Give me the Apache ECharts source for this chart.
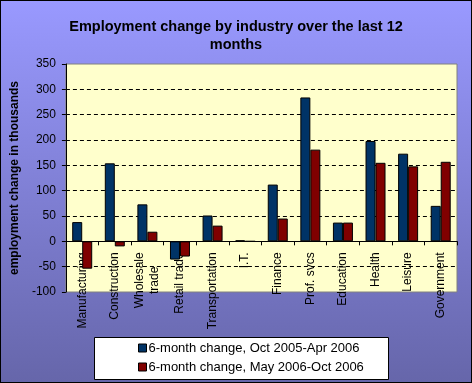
<!DOCTYPE html>
<html>
<head>
<meta charset="utf-8">
<script src="https://cdn.jsdelivr.net/npm/echarts@6/dist/echarts.min.js"></script>
<style>
html,body{margin:0;padding:0;background:#fff;}
#c{width:472px;height:383px;box-sizing:border-box;border:1px solid #000;}
</style>
</head>
<body>
<div id="c"></div>
<script>
const categories = ['Manufacturing','Construction','Wholesale\ntrade','Retail trade','Transportation','I.T.','Finance','Prof. svcs','Education','Health','Leisure','Government'];
const seriesNames = ['6-month change, Oct 2005-Apr 2006','6-month change, May 2006-Oct 2006'];
const firstHalf = [38, 154, 73, -36, 51, 2, 112, 284, 37, 198, 173, 70];
const secondHalf = [-54, -10, 19, -30, 31, 0, 45, 181, 37, 155, 148, 157];
const yTicks = {min: -100, max: 350, interval: 50};

const gridH = 228;
const zeroOffset = -gridH * (0 - yTicks.min) / (yTicks.max - yTicks.min);

const chart = echarts.init(document.getElementById('c'), null, {renderer: 'canvas'});
const font = 'Arial, "Liberation Sans", sans-serif';
chart.setOption({
  backgroundColor: {
    type: 'linear', x: 0, y: 0, x2: 0, y2: 1,
    colorStops: [{offset: 0, color: '#9999FF'}, {offset: 1, color: '#6666AA'}]
  },
  animation: false,
  title: {
    text: 'Employment change by industry over the last 12\nmonths',
    left: 'center', top: 12,
    textStyle: {fontFamily: font, fontSize: 14.5, fontWeight: 'bold', color: '#000', lineHeight: 18}
  },
  graphic: [{
    type: 'rect', z: -1,
    shape: {x: 93.5, y: 336.5, width: 294, height: 42},
    style: {fill: '#fff', stroke: '#000', lineWidth: 1}
  }],
  grid: {
    left: 61, top: 63, width: 395, height: gridH,
    show: true, backgroundColor: '#FFFFCC', borderColor: '#808080', borderWidth: 1
  },
  legend: {
    orient: 'vertical', left: 137, top: 340,
    padding: 0, itemGap: 5,
    itemWidth: 8, itemHeight: 8, icon: 'rect',
    itemStyle: {borderColor: '#000', borderWidth: 1},
    textStyle: {fontFamily: font, fontSize: 13, color: '#000', lineHeight: 14, padding: [0,0,0,-3]},
    data: seriesNames
  },
  xAxis: {
    type: 'category', data: categories,
    offset: zeroOffset,
    axisLine: {onZero: false, lineStyle: {color: '#000', width: 1}},
    axisTick: {show: true, length: 4, lineStyle: {color: '#000'}},
    axisLabel: {
      rotate: 90, margin: 11, interval: 0, color: '#000', fontFamily: font, fontSize: 12,
      formatter: function (v) { return v.split('\n').map(function (s) { return '{c|' + s + '}'; }).join('\n'); },
      rich: {c: {align: 'center', fontFamily: font, fontSize: 12, color: '#000', lineHeight: 15}}
    },
    splitLine: {show: false}
  },
  yAxis: {
    type: 'value', min: yTicks.min, max: yTicks.max, interval: yTicks.interval,
    name: 'employment change in thousands', nameLocation: 'middle', nameGap: 33,
    nameTextStyle: {fontFamily: font, fontSize: 12, fontWeight: 'bold', color: '#000'},
    axisLine: {show: true, lineStyle: {color: '#000', width: 1}},
    axisTick: {show: true, length: 4, lineStyle: {color: '#000'}},
    axisLabel: {color: '#000', fontFamily: font, fontSize: 12, margin: 10},
    splitLine: {show: true, showMinLine: false, showMaxLine: false, lineStyle: {color: '#000', type: [4, 3], width: 1}}
  },
  series: [
    {name: seriesNames[0], type: 'bar', data: firstHalf, barWidth: 10, barGap: '0%',
     itemStyle: {color: '#003366', borderColor: '#000', borderWidth: 1}},
    {name: seriesNames[1], type: 'bar', data: secondHalf, barWidth: 10, barGap: '0%',
     itemStyle: {color: '#800000', borderColor: '#000', borderWidth: 1}}
  ]
});
</script>
</body>
</html>
